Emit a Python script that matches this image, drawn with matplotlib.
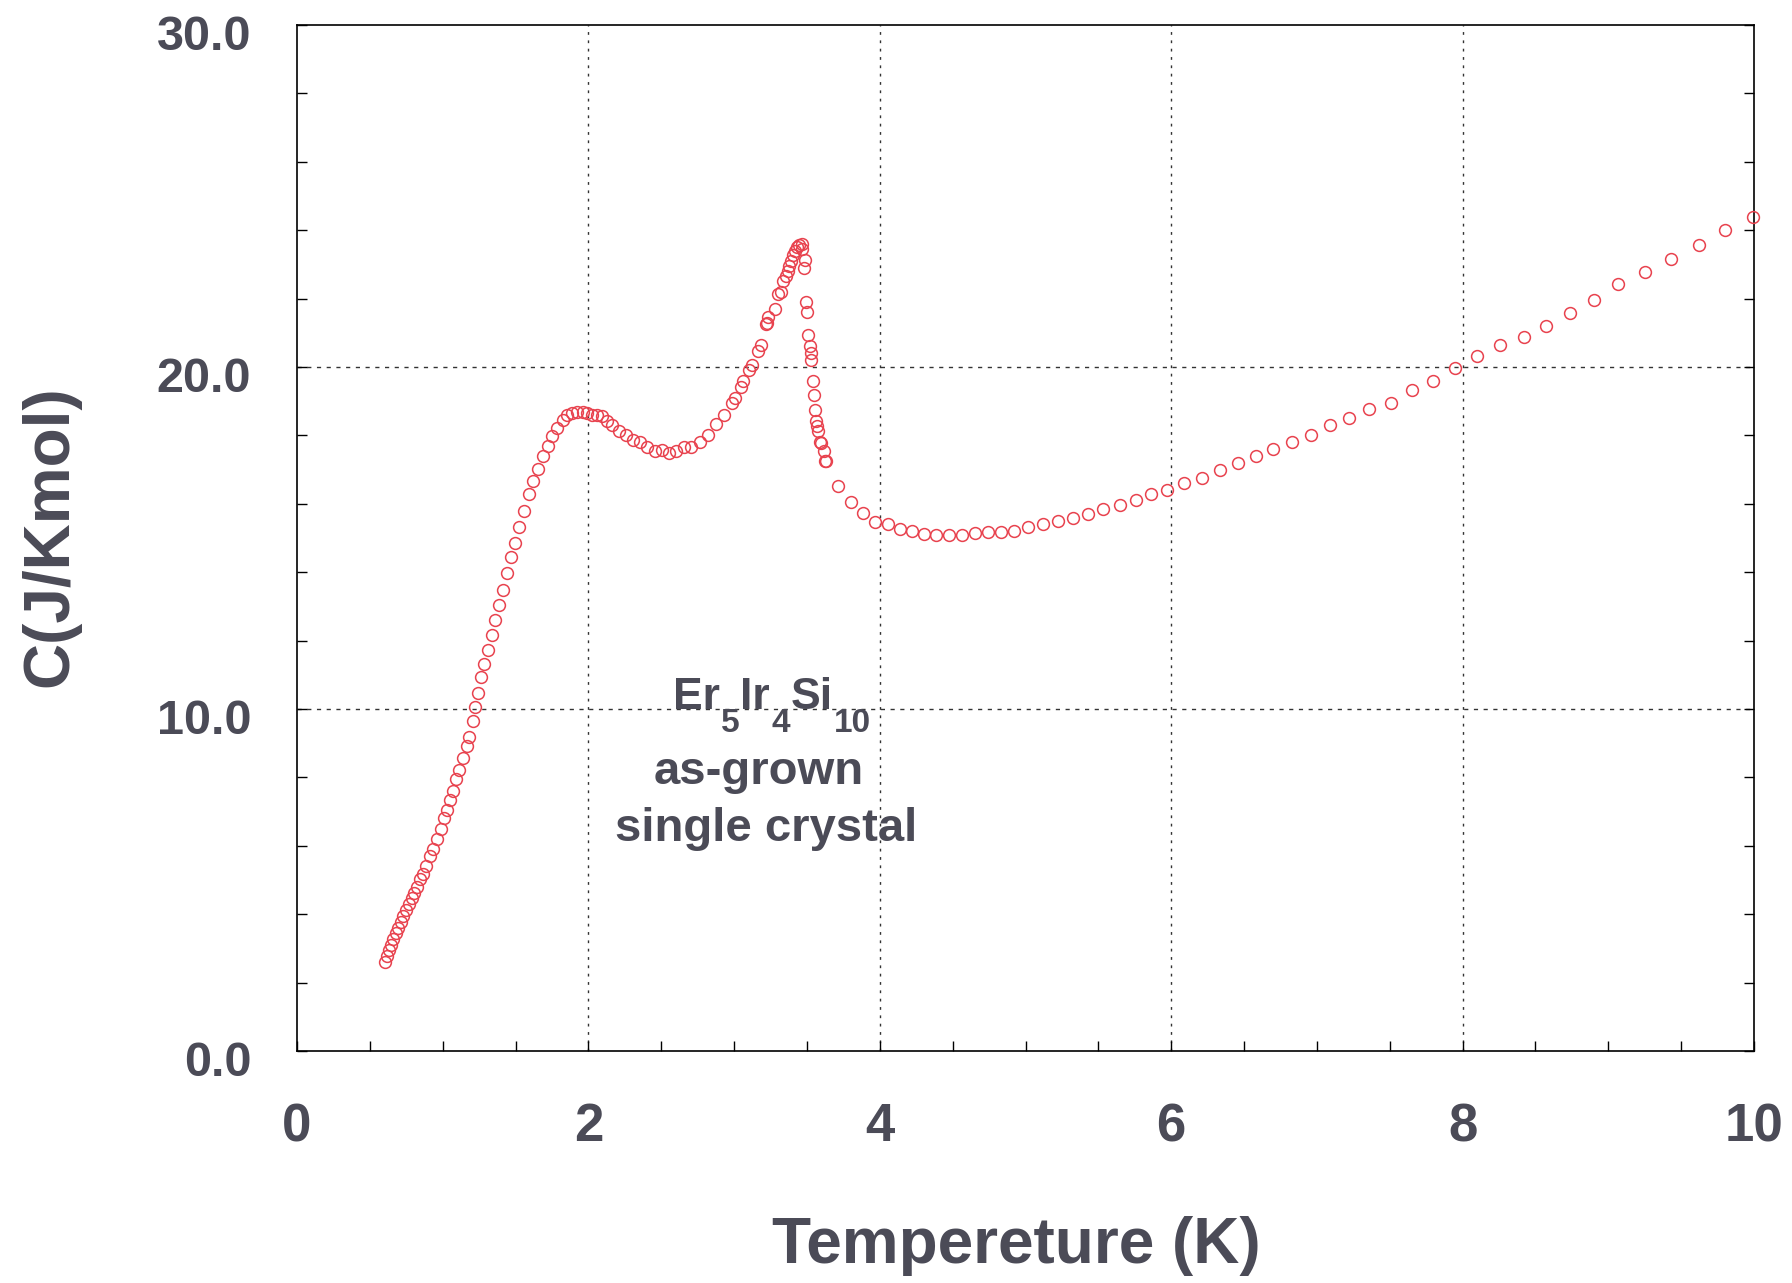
import matplotlib
matplotlib.use("Agg")
import matplotlib.pyplot as plt
from matplotlib.ticker import MultipleLocator, FormatStrFormatter
from matplotlib.transforms import IdentityTransform, ScaledTranslation

# ---- data ----
T_low = [0.604, 0.615, 0.631, 0.645, 0.661, 0.677, 0.695, 0.712, 0.730, 0.748,
         0.766, 0.787, 0.805, 0.826, 0.844, 0.867, 0.885, 0.913, 0.936, 0.959,
         0.986, 1.009, 1.027, 1.050, 1.073, 1.091, 1.114, 1.142, 1.165, 1.183,
         1.210, 1.225, 1.245, 1.263, 1.286, 1.313, 1.336, 1.361, 1.389, 1.416,
         1.439, 1.469, 1.496, 1.526, 1.558, 1.593, 1.622, 1.652, 1.686, 1.721,
         1.753, 1.787]
C_low = [2.60, 2.77, 2.94, 3.11, 3.28, 3.45, 3.61, 3.78, 3.95, 4.12,
         4.29, 4.46, 4.63, 4.80, 5.02, 5.19, 5.42, 5.70, 5.90, 6.20,
         6.49, 6.82, 7.05, 7.33, 7.59, 7.95, 8.23, 8.57, 8.91, 9.19,
         9.64, 10.05, 10.48, 10.93, 11.33, 11.72, 12.17, 12.59, 13.04, 13.49,
         13.98, 14.43, 14.85, 15.33, 15.78, 16.28, 16.68, 17.02, 17.41, 17.69,
         17.97, 18.22]

T_mid = [1.826, 1.856, 1.890, 1.925, 1.960, 1.993, 2.027, 2.062, 2.090, 2.126,
         2.165, 2.210, 2.256, 2.307, 2.357, 2.405, 2.455, 2.508, 2.554, 2.604,
         2.654, 2.705, 2.764, 2.824, 2.879, 2.933, 2.988, 3.007, 3.048, 3.060,
         3.103, 3.121, 3.167, 3.183, 3.222, 3.235, 3.228, 3.281, 3.304, 3.320,
         3.336, 3.354, 3.368, 3.377, 3.391, 3.405, 3.418, 3.434, 3.446, 3.464,
         3.469, 3.487, 3.482]
C_mid = [18.46, 18.61, 18.65, 18.67, 18.67, 18.65, 18.61, 18.59, 18.57, 18.43,
         18.29, 18.14, 18.02, 17.87, 17.81, 17.67, 17.53, 17.58, 17.49, 17.55,
         17.65, 17.66, 17.81, 18.00, 18.33, 18.61, 18.95, 19.09, 19.41, 19.58,
         19.92, 20.07, 20.46, 20.63, 21.26, 21.45, 21.30, 21.71, 22.13, 22.19,
         22.50, 22.65, 22.80, 22.94, 23.11, 23.27, 23.38, 23.50, 23.58, 23.60,
         23.46, 23.14, 22.90]

T_drop = [3.496, 3.499, 3.505, 3.519, 3.526, 3.528, 3.542, 3.549, 3.556, 3.565,
          3.572, 3.579, 3.588, 3.597, 3.617, 3.622, 3.629]
C_drop = [21.90, 21.61, 20.95, 20.60, 20.41, 20.21, 19.58, 19.19, 18.75, 18.41,
          18.27, 18.12, 17.81, 17.77, 17.53, 17.26, 17.24]

T_high = [3.714, 3.800, 3.886, 3.970, 4.053, 4.137, 4.222, 4.306, 4.389, 4.475,
          4.562, 4.656, 4.743, 4.832, 4.923, 5.019, 5.120, 5.223, 5.326, 5.429,
          5.531, 5.646, 5.755, 5.861, 5.970, 6.089, 6.208, 6.334, 6.459, 6.580,
          6.700, 6.830, 6.960, 7.088, 7.220, 7.360, 7.510, 7.650, 7.800, 7.950,
          8.100, 8.260, 8.420, 8.570, 8.740, 8.900, 9.070, 9.250, 9.430, 9.620,
          9.800, 9.990]
C_high = [16.52, 16.04, 15.72, 15.46, 15.40, 15.26, 15.20, 15.13, 15.09, 15.08,
          15.09, 15.14, 15.17, 15.18, 15.21, 15.32, 15.40, 15.51, 15.59, 15.71,
          15.85, 15.96, 16.10, 16.30, 16.41, 16.61, 16.76, 16.99, 17.19, 17.41,
          17.59, 17.80, 18.02, 18.30, 18.52, 18.77, 18.96, 19.33, 19.59, 19.98,
          20.33, 20.64, 20.87, 21.21, 21.57, 21.97, 22.42, 22.79, 23.15, 23.57,
          24.01, 24.38]

temperature = T_low + T_mid + T_drop + T_high
heat_capacity = C_low + C_mid + C_drop + C_high

x_ticks = [0, 2, 4, 6, 8, 10]
y_ticks = [0.0, 10.0, 20.0, 30.0]
x_label = "Tempereture (K)"
y_label = "C(J/Kmol)"
formula_parts = [("Er", False), ("5", True), ("Ir", False), ("4", True),
                 ("Si", False), ("10", True)]
annotation_lines = ["as-grown", "single crystal"]

# ---- style ----
TXT = "#4b4b57"
RED = "#e8424e"
plt.rcParams["font.family"] = ["Liberation Sans", "DejaVu Sans"]
plt.rcParams["font.weight"] = "bold"

fig = plt.figure(figsize=(17.92, 12.83), dpi=100)
ax = fig.add_axes([297 / 1792, 1 - 1051 / 1283, 1457 / 1792, 1026 / 1283])

ax.plot(temperature, heat_capacity, linestyle="none", marker="o",
        markerfacecolor="none", markeredgecolor=RED, markersize=8.5,
        markeredgewidth=1.1, clip_on=False, zorder=3)

ax.set_xlim(0, 10)
ax.set_ylim(0, 30)
ax.set_xticks(x_ticks)
ax.set_yticks(y_ticks)
ax.xaxis.set_minor_locator(MultipleLocator(0.5))
ax.yaxis.set_minor_locator(MultipleLocator(2))
ax.yaxis.set_major_formatter(FormatStrFormatter("%.1f"))

ax.tick_params(axis="both", which="both", direction="in", color="black",
               width=1.0, top=False, right=True, length=7)
ax.tick_params(axis="y", which="major", pad=33, labelsize=35, labelcolor=TXT)
ax.tick_params(axis="x", which="major", pad=37, labelsize=38, labelcolor=TXT)
for lab in ax.get_xticklabels() + ax.get_yticklabels():
    lab.set_fontweight("bold")
# y tick labels sit slightly below their ticks in the reference
shift = ScaledTranslation(0, -8 / 100, fig.dpi_scale_trans)
for lab in ax.get_yticklabels():
    lab.set_transform(lab.get_transform() + shift)

for s in ax.spines.values():
    s.set_linewidth(1.2)
    s.set_color("black")

for xv in [2, 4, 6, 8]:
    ax.axvline(xv, color="#333333", lw=1.0, linestyle=(0, (2, 4)), zorder=1)
for yv in [10, 20]:
    ax.axhline(yv, color="#333333", lw=1.0, linestyle=(0, (3, 4)), zorder=1)

ax.set_xlabel(x_label, fontsize=46, fontweight="bold", color=TXT)
ax.xaxis.set_label_coords(0.4935, -0.19)
ax.xaxis.label.set_va("center")
ax.set_ylabel(y_label, fontsize=46, fontweight="bold", color=TXT)
ax.yaxis.set_label_coords(-0.169, 0.502)
ax.yaxis.label.set_va("center")

# formula with large, low subscripts: pieces laid out in pixel space
renderer = fig.canvas.get_renderer()
bx, by = ax.transData.transform((2.58, 10.0))
xpos = bx
for txt, is_sub in formula_parts:
    t = fig.text(xpos, by + 1 if is_sub else by, txt,
                 transform=IdentityTransform(),
                 fontsize=24 if is_sub else 32, fontweight="bold", color=TXT,
                 ha="left", va="top" if is_sub else "baseline", zorder=4)
    xpos += t.get_window_extent(renderer).width + 1

ann_pos = [(3.17, 8.16), (3.22, 6.49)]
for txt, (xx, yy) in zip(annotation_lines, ann_pos):
    ax.text(xx, yy, txt, fontsize=34, fontweight="bold", color=TXT,
            ha="center", va="center", zorder=4)

fig.savefig("out.png", dpi=100, facecolor="white")
